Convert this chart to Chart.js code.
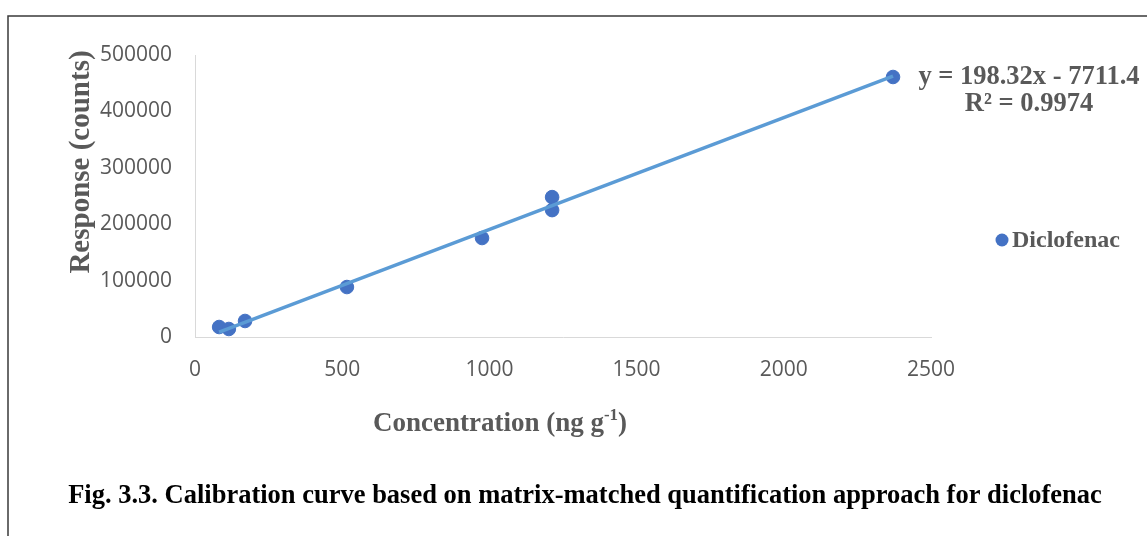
<!DOCTYPE html>
<html>
<head>
<meta charset="utf-8">
<title>Diclofenac calibration curve</title>
<script src="https://cdn.jsdelivr.net/npm/chart.js@4/dist/chart.umd.min.js"></script>
<style>
  html, body { margin: 0; padding: 0; background: #fff; }
  #wrap { width: 1147px; height: 536px; }
</style>
</head>
<body>
<div id="wrap"><canvas id="calib" width="1147" height="536"></canvas></div>
<script>
// concentration (ng/g) and instrument response
const concentration = [82, 115, 170, 516, 975, 1213, 1213, 2371];
const response = [17700, 14200, 28400, 88600, 175500, 248000, 225000, 461000];

// linear fit reported on the chart
const slope = 198.32;
const intercept = -7711.4;
const r2 = 0.9974;

const xTicks = [0, 500, 1000, 1500, 2000, 2500];
const yTicks = [0, 100000, 200000, 300000, 400000, 500000];

const seriesName = "Diclofenac";
const caption = "Fig. 3.3. Calibration curve based on matrix-matched quantification approach for diclofenac";

const GREY = "#595959";
const SERIF = "'Liberation Serif', 'Times New Roman', serif";
const SANS = "'Open Sans', 'Liberation Sans', sans-serif";

const points = concentration.map((c, i) => ({ x: c, y: response[i] }));
const xMin = Math.min(...concentration);
const xMax = Math.max(...concentration);
const fitLine = [xMin, xMax].map(x => ({ x: x, y: slope * x + intercept }));

// frame, titles, fit equation, legend and caption
const decorations = {
    id: "decorations",
    beforeDraw(chart) {
        const c = chart.ctx;
        c.save();
        c.fillStyle = "#fff";
        c.fillRect(0, 0, chart.width, chart.height);
        c.strokeStyle = "#3a3a3a";
        c.lineWidth = 1.5;
        c.strokeRect(8, 16, chart.width + 20, chart.height + 20);
        c.restore();
    },
    afterDraw(chart) {
        const c = chart.ctx;
        c.save();
        c.fillStyle = GREY;
        c.textBaseline = "middle";

        // y axis title
        c.save();
        c.translate(82, 162);
        c.rotate(-Math.PI / 2);
        c.textAlign = "center";
        c.font = "bold 29px " + SERIF;
        c.fillText("Response (counts)", 0, 0);
        c.restore();

        // x axis title with superscript
        c.font = "bold 27px " + SERIF;
        const main = "Concentration (ng g";
        const sup = "-1";
        const close = ")";
        const wMain = c.measureText(main).width;
        c.font = "bold 17px " + SERIF;
        const wSup = c.measureText(sup).width;
        c.font = "bold 27px " + SERIF;
        const wClose = c.measureText(close).width;
        let tx = 500 - (wMain + wSup + wClose) / 2;
        c.textAlign = "left";
        c.fillText(main, tx, 424);
        tx += wMain;
        c.font = "bold 17px " + SERIF;
        c.fillText(sup, tx, 416);
        tx += wSup;
        c.font = "bold 27px " + SERIF;
        c.fillText(close, tx, 424);

        // fit equation
        c.textAlign = "center";
        c.font = "bold 26.5px " + SERIF;
        c.fillText("y = " + slope + "x - " + Math.abs(intercept), 1029, 77);
        c.fillText("R\u00B2 = " + r2, 1029, 104);

        // legend
        c.fillStyle = "#4472C4";
        c.beginPath();
        c.arc(1002, 240, 6.5, 0, Math.PI * 2);
        c.fill();
        c.fillStyle = GREY;
        c.textAlign = "left";
        c.font = "bold 24px " + SERIF;
        c.fillText(seriesName, 1012, 241);

        // figure caption
        c.fillStyle = "#000";
        c.textAlign = "center";
        c.font = "bold 26.5px " + SERIF;
        c.fillText(caption, 585, 496);
        c.restore();
    }
};

const chart = new Chart(document.getElementById("calib"), {
    type: "scatter",
    data: {
        datasets: [
            {
                label: "Linear fit",
                type: "line",
                data: fitLine,
                borderColor: "#5B9BD5",
                borderWidth: 3.5,
                pointRadius: 0,
                fill: false,
                order: 0,
            },
            {
                label: seriesName,
                data: points,
                backgroundColor: "#4472C4",
                borderColor: "#4472C4",
                pointRadius: 6.8,
                pointHoverRadius: 6.8,
                order: 1,
            },
        ],
    },
    options: {
        responsive: false,
        animation: false,
        layout: { padding: { top: 55, right: 216, bottom: 0, left: 0 } },
        plugins: {
            legend: { display: false },
            tooltip: { enabled: false },
        },
        scales: {
            x: {
                type: "linear",
                min: xTicks[0],
                max: xTicks[xTicks.length - 1],
                afterBuildTicks: s => { s.ticks = xTicks.map(v => ({ value: v })); },
                afterFit: s => { s.height = 199; },
                grid: { display: false, drawTicks: false },
                border: { display: true, color: "#D9D9D9", width: 1 },
                ticks: {
                    padding: 20,
                    color: GREY,
                    font: { family: SANS, size: 21 },
                    maxRotation: 0,
                    callback: v => String(v),
                },
            },
            y: {
                type: "linear",
                min: yTicks[0],
                max: yTicks[yTicks.length - 1],
                afterBuildTicks: s => { s.ticks = yTicks.map(v => ({ value: v })); },
                afterFit: s => { s.width = 195; },
                grid: { display: false, drawTicks: false },
                border: { display: true, color: "#D9D9D9", width: 1 },
                ticks: {
                    padding: 23,
                    color: GREY,
                    font: { family: SANS, size: 21 },
                    callback: v => String(v),
                },
            },
        },
    },
    plugins: [decorations],
});
</script>
</body>
</html>
